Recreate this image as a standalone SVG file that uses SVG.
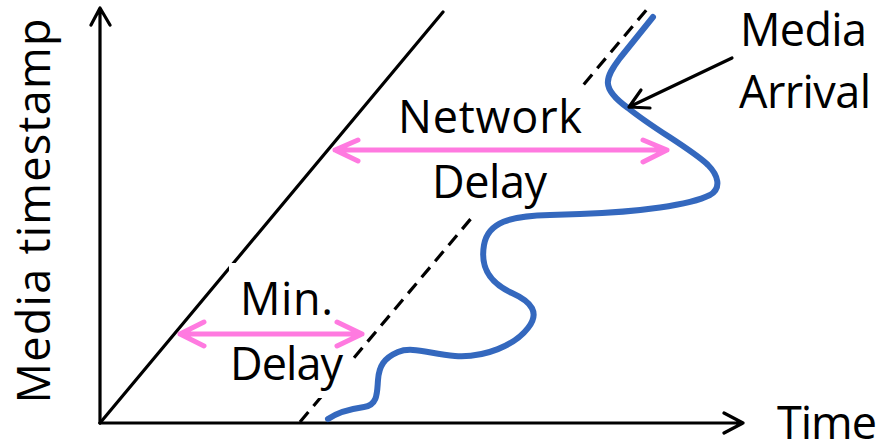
<svg xmlns="http://www.w3.org/2000/svg" width="884" height="447" viewBox="0 0 884 447">
<style>
.ax{stroke:#000;stroke-width:3.2;fill:none;stroke-linecap:round;stroke-linejoin:round}
.dash{stroke:#000;stroke-width:3.2;fill:none;stroke-dasharray:13 8}
.pink{stroke:#FF7AE0;stroke-width:5;fill:none;stroke-linecap:round;stroke-linejoin:round}
.blue{stroke:#3468BE;stroke-width:6;fill:none;stroke-linecap:round;stroke-linejoin:round}
.t{font-family:"Open Sans","Noto Sans",sans-serif;font-size:45px;fill:#000}
</style>
<rect width="884" height="447" fill="#fff"/>
<g id="axes">
  <path class="ax" d="M100,423 L100,8 M91,25 L100,8 L110,25"/>
  <path class="ax" d="M100,423 L743,423 M724,413 L743,423 L724,433"/>
  <text class="t" transform="translate(50,211) rotate(-90)" text-anchor="middle" textLength="385">Media timestamp</text>
  <text class="t" x="777" y="439" textLength="100">Time</text>
</g>
<g id="connectors">
  <line id="min-line" class="ax" x1="100" y1="423" x2="443" y2="12"/>
  <line id="actual-line" class="dash" x1="300" y1="422" x2="648" y2="8"/>
</g>
<g id="network-delay">
  <rect x="395" y="88" width="200" height="126" fill="#fff"/>
  <text class="t" x="398" y="133" textLength="184">Network</text>
  <text class="t" x="432" y="198" textLength="115">Delay</text>
  <path class="pink" d="M335,150 L667,150 M358,140 L335,150 L358,161 M643,140 L667,150 L643,162"/>
</g>
<g id="min-delay">
  <rect x="229" y="263" width="123" height="135" fill="#fff"/>
  <text class="t" x="240" y="315" textLength="93">Min.</text>
  <text class="t" x="230" y="380" textLength="113">Delay</text>
  <path class="pink" d="M180,334 L362,334 M204,322 L180,334 L204,346 M337,322 L362,334 L337,346"/>
</g>
<g id="media-arrival-curve">
  <path class="blue" d="M328,419 C338,412 350,409 364,407 C378,405 377,392 378,380 C379,366 384,358 398,352 C412,346 430,354 455,356 C485,358 515,345 528,328 C540,313 532,302 512,293 C490,283 480,268 484,245 C488,222 510,216 550,215 L580,214 C640,212 690,205 710,195 C722,188 718,175 708,165 C690,148 655,130 628,108 C600,88 605,78 620,58 L653,17"/>
</g>
<g id="media-arrival-label">
  <text class="t" x="740" y="46" textLength="127">Media</text>
  <text class="t" x="739" y="108" textLength="132">Arrival</text>
  <path class="ax" d="M732,58 L629,107 M641,90 L629,107 L650,108"/>
</g>
</svg>
